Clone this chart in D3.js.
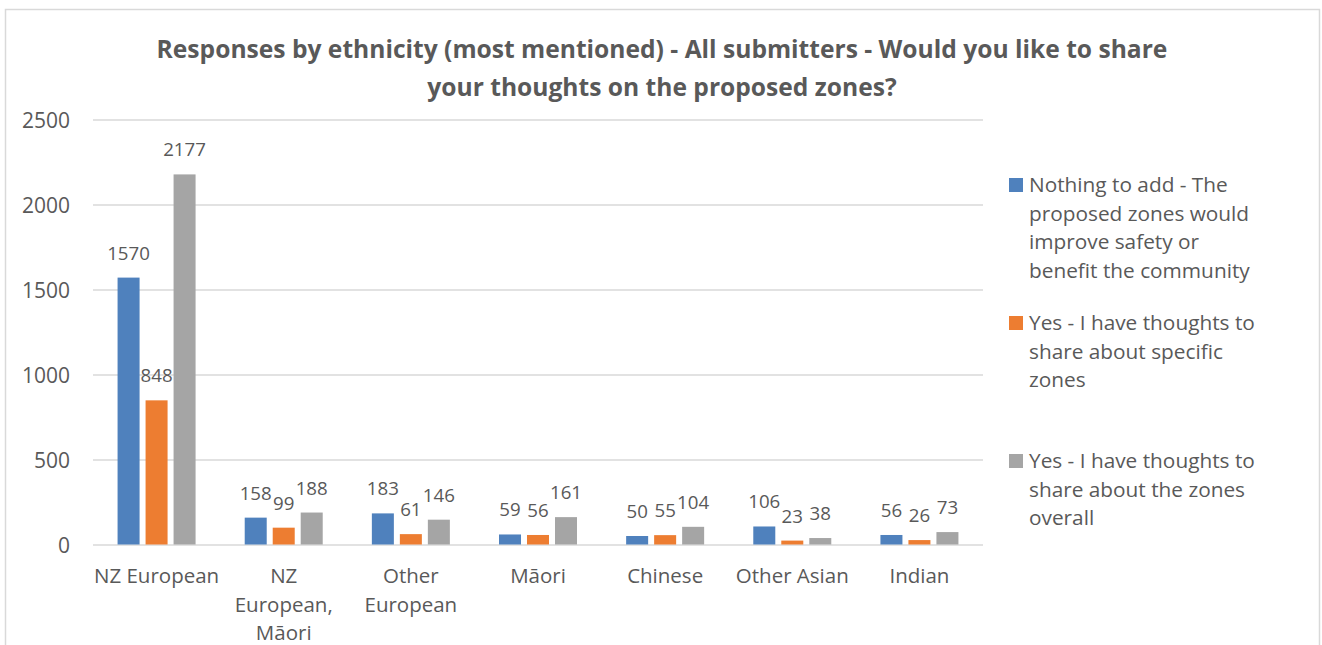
<!DOCTYPE html>
<html>
<head>
<meta charset="utf-8">
<script src="https://cdn.jsdelivr.net/npm/d3@7"></script>
<style>
  html, body { margin: 0; padding: 0; background: #fff; }
  svg { display: block; font-family: "Open Sans", sans-serif; }
</style>
</head>
<body>
<svg id="chart" width="1322" height="645"></svg>
<script>
const titleLines = [
  "Responses by ethnicity (most mentioned) - All submitters - Would you like to share",
  "your thoughts on the proposed zones?"
];
const categories = ["NZ European", "NZ European, Māori", "Other European", "Māori", "Chinese", "Other Asian", "Indian"];
const categoryLines = [["NZ European"], ["NZ", "European,", "Māori"], ["Other", "European"], ["Māori"], ["Chinese"], ["Other Asian"], ["Indian"]];
const seriesNames = [
  "Nothing to add - The proposed zones would improve safety or benefit the community",
  "Yes - I have thoughts to share about specific zones",
  "Yes - I have thoughts to share about the zones overall"
];
const legendLines = [
  ["Nothing to add - The", "proposed zones would", "improve safety or", "benefit the community"],
  ["Yes - I have thoughts to", "share about specific", "zones"],
  ["Yes - I have thoughts to", "share about the zones", "overall"]
];
const nothingToAdd = [1570, 158, 183, 59, 50, 106, 56];
const specificZones = [848, 99, 61, 56, 55, 23, 26];
const zonesOverall = [2177, 188, 146, 161, 104, 38, 73];
const yTicks = [0, 500, 1000, 1500, 2000, 2500];
const colors = ["#4F81BD", "#ED7D31", "#A5A5A5"];

const seriesValues = [nothingToAdd, specificZones, zonesOverall];
const textColor = "#595959";
const gridColor = "#D9D9D9";

const svg = d3.select("#chart");

// outer border
svg.append("rect").attr("x", 5.5).attr("y", 9.5).attr("width", 1314).attr("height", 660)
  .attr("fill", "none").attr("stroke", gridColor).attr("stroke-width", 1.5);

// title
svg.append("g").selectAll("text").data(titleLines).join("text")
  .attr("x", 662).attr("y", (d, i) => 58 + i * 38)
  .attr("text-anchor", "middle")
  .attr("font-size", 24.6).attr("font-weight", "bold").attr("fill", textColor)
  .text(d => d);

const plot = { left: 93, right: 983, top: 119.5, bottom: 544.5 };

const y = d3.scaleLinear().domain([0, 2500]).range([plot.bottom, plot.top]);
const x0 = d3.scaleBand().domain(categories).range([plot.left, plot.right]).padding(0);
const groupW = 78;
const x1 = d3.scaleBand().domain(d3.range(seriesNames.length))
  .range([x0.bandwidth() / 2 - groupW / 2, x0.bandwidth() / 2 + groupW / 2])
  .paddingInner(0.214).paddingOuter(0);

// gridlines + y labels
const yAxis = d3.axisLeft(y).tickValues(yTicks).tickFormat(d3.format("d"))
  .tickSize(-(plot.right - plot.left)).tickPadding(23);
const gy = svg.append("g").attr("transform", `translate(${plot.left},0)`).call(yAxis);
gy.select(".domain").remove();
gy.selectAll(".tick line").attr("stroke", gridColor).attr("stroke-width", 1.5);
gy.selectAll(".tick text").attr("fill", textColor).attr("font-size", 21)
  .attr("font-family", "Open Sans, sans-serif").attr("dy", "0.36em");

// bars
const groups = svg.append("g").selectAll("g").data(categories).join("g")
  .attr("transform", d => `translate(${x0(d)},0)`);

groups.each(function (cat, ci) {
  const g = d3.select(this);
  const vals = seriesValues.map((s, si) => ({ si, v: s[ci] }));
  g.selectAll("rect").data(vals).join("rect")
    .attr("x", d => x1(d.si)).attr("width", x1.bandwidth())
    .attr("y", d => y(d.v)).attr("height", d => y(0) - y(d.v))
    .attr("fill", d => colors[d.si]);
  g.selectAll("text").data(vals).join("text")
    .attr("x", d => x1(d.si) + x1.bandwidth() / 2)
    .attr("y", d => y(d.v) - 18)
    .attr("text-anchor", "middle").attr("font-size", 18.7).attr("fill", textColor)
    .text(d => d.v);
});

// category labels
const cl = svg.append("g").selectAll("text").data(categories).join("text")
  .attr("x", d => x0(d) + x0.bandwidth() / 2)
  .attr("y", 583)
  .attr("text-anchor", "middle").attr("font-size", 20.5).attr("fill", textColor);
cl.each(function (d, i) {
  d3.select(this).selectAll("tspan").data(categoryLines[i]).join("tspan")
    .attr("x", x0(d) + x0.bandwidth() / 2)
    .attr("dy", (t, j) => j === 0 ? 0 : 28.5)
    .text(t => t);
});

// legend
const legendY = [192, 330, 468];
const lg = svg.append("g").selectAll("g").data(seriesNames).join("g")
  .attr("transform", (d, i) => `translate(1009,${legendY[i]})`);
lg.append("rect").attr("x", 0).attr("y", -14).attr("width", 14).attr("height", 14)
  .attr("fill", (d, i) => colors[i]);
lg.append("text").attr("x", 20).attr("y", 0).attr("font-size", 20.8).attr("fill", textColor)
  .each(function (d, i) {
    d3.select(this).selectAll("tspan").data(legendLines[i]).join("tspan")
      .attr("x", 20).attr("dy", (t, j) => j === 0 ? 0 : 28.7).text(t => t);
  });
</script>
</body>
</html>
